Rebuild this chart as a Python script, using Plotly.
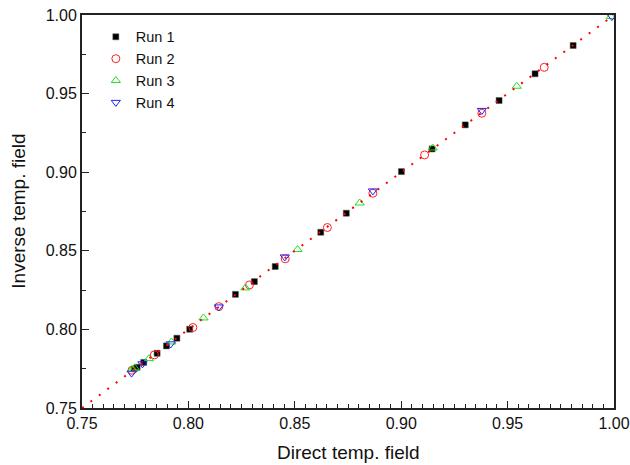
import plotly.graph_objects as go

# Run 1 (black filled squares)
run1_x = [0.7745, 0.7759, 0.7790, 0.7853, 0.7897, 0.7946, 0.8006, 0.8221, 0.8310, 0.8408,
          0.8622, 0.8742, 0.9001, 0.9145, 0.9301, 0.9460, 0.9629, 0.9808]
run1_y = [0.7748, 0.7759, 0.7790, 0.7848, 0.7895, 0.7944, 0.8001, 0.8223, 0.8304, 0.8400,
          0.8618, 0.8739, 0.9004, 0.9148, 0.9301, 0.9456, 0.9626, 0.9806]
# Run 2 (red open circles)
run2_x = [0.7735, 0.7840, 0.8021, 0.8143, 0.8287, 0.8455, 0.8653, 0.8867, 0.9110, 0.9379, 0.9672]
run2_y = [0.7740, 0.7838, 0.8012, 0.8145, 0.8283, 0.8449, 0.8648, 0.8866, 0.9110, 0.9375, 0.9667]
# Run 3 (green open up-triangles)
run3_x = [0.7735, 0.7748, 0.7815, 0.7920, 0.8071, 0.8268, 0.8513, 0.8805, 0.9148, 0.9543, 0.9985]
run3_y = [0.7745, 0.7755, 0.7814, 0.7920, 0.8073, 0.8264, 0.8508, 0.8804, 0.9154, 0.9547, 0.9990]
# Run 4 (blue open down-triangles)
run4_x = [0.7733, 0.7784, 0.7917, 0.8143, 0.8453, 0.8867, 0.9379, 0.9990]
run4_y = [0.7722, 0.7781, 0.7908, 0.8143, 0.8461, 0.8881, 0.9393, 0.9990]

# reference line y = x
line_x = [0.75, 1.0]
line_y = [0.75, 1.0]

x_ticks = [0.75, 0.80, 0.85, 0.90, 0.95, 1.00]
y_ticks = [0.75, 0.80, 0.85, 0.90, 0.95, 1.00]
tick_text = ["0.75", "0.80", "0.85", "0.90", "0.95", "1.00"]

FONT = "Liberation Sans, Arial, sans-serif"

fig = go.Figure()
fig.add_trace(go.Scatter(x=run1_x, y=run1_y, mode="markers", name="Run 1",
                         marker=dict(symbol="square", size=6, color="black",
                                     line=dict(width=0.5, color="#555"))))
fig.add_trace(go.Scatter(x=run2_x, y=run2_y, mode="markers", name="Run 2",
                         marker=dict(symbol="circle-open", size=8, color="#FF2020",
                                     line=dict(width=1, color="#FF2020"))))
fig.add_trace(go.Scatter(x=run3_x, y=run3_y, mode="markers", name="Run 3",
                         marker=dict(symbol="triangle-up-open", size=8, color="#22DD22",
                                     line=dict(width=1, color="#22DD22"))))
fig.add_trace(go.Scatter(x=run4_x, y=run4_y, mode="markers", name="Run 4",
                         marker=dict(symbol="triangle-down-open", size=8, color="#2020FF",
                                     line=dict(width=1, color="#2020FF"))))
fig.add_trace(go.Scatter(x=line_x, y=line_y, mode="lines", showlegend=False,
                         line=dict(color="#FF0000", width=2, dash="2px,8.5px"),
                         hoverinfo="skip"))

axis_common = dict(showgrid=False, zeroline=False, showline=True, linecolor="#222",
                   linewidth=2, mirror=True, ticks="inside", ticklen=7, tickwidth=1.2,
                   tickcolor="#222", automargin=False,
                   tickfont=dict(family=FONT, size=16, color="#111"))

fig.update_xaxes(range=[0.75, 1.0], tickvals=x_ticks, ticktext=tick_text,
                 minor=dict(dtick=0.005, tick0=0.75, ticks="inside", ticklen=4,
                            tickwidth=1, tickcolor="#222"),
                 **axis_common)
fig.update_yaxes(range=[0.75, 1.0], tickvals=y_ticks, ticktext=tick_text,
                 minor=dict(dtick=0.025, tick0=0.75, ticks="inside", ticklen=4,
                            tickwidth=1, tickcolor="#222"),
                 **axis_common)

fig.add_annotation(text="Direct temp. field", xref="paper", yref="paper",
                   x=0.5, y=-0.112, xanchor="center", yanchor="middle", showarrow=False,
                   font=dict(family=FONT, size=19, color="#111"))
fig.add_annotation(text="Inverse temp. field", xref="paper", yref="paper",
                   x=-0.12, y=0.5, xanchor="center", yanchor="middle", showarrow=False,
                   textangle=-90, font=dict(family=FONT, size=19, color="#111"))

fig.update_layout(width=630, height=465, margin=dict(l=82, r=16, t=15, b=57),
                  paper_bgcolor="white", plot_bgcolor="white",
                  font=dict(family=FONT, size=14, color="#111"),
                  legend=dict(x=0.026, y=0.985, xanchor="left", yanchor="top",
                              bgcolor="rgba(0,0,0,0)", font=dict(family=FONT, size=14.5, color="#111"),
                              tracegroupgap=0, itemsizing="trace"),
                  showlegend=True)

fig.write_html("out.html")
